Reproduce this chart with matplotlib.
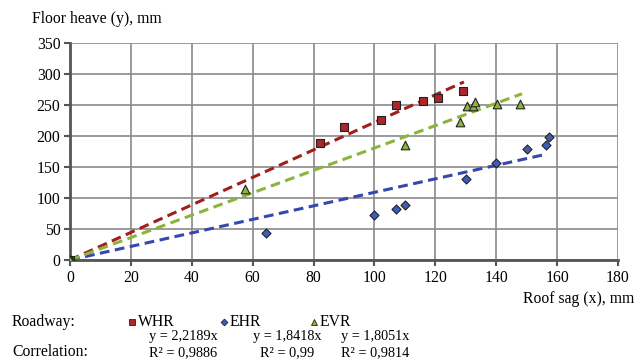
import matplotlib.pyplot as plt
import numpy as np

plt.rcParams['font.family'] = ['Liberation Serif', 'DejaVu Serif']

# --- data ---
whr_x = [0, 82, 90, 102, 107, 116, 121, 129]
whr_y = [0, 188, 215, 226, 250, 257, 262, 273]

ehr_x = [0, 64.5, 100, 107, 110, 130, 140, 150, 156.4, 157.4]
ehr_y = [0, 43, 72, 82, 88, 130, 156, 179, 185, 198]

evr_x = [0, 57.4, 110, 128, 130.4, 132.4, 133, 140.3, 148]
evr_y = [0, 115, 185, 222, 249, 249, 255, 251, 252]

# trend lines as drawn (slope, end x)
trend_slope = [2.2189, 1.09, 1.8051]
trend_end = [129.4, 156, 148.5]

series_names = ['WHR', 'EHR', 'EVR']
eq_text = ['y = 2,2189x', 'y = 1,8418x', 'y = 1,8051x']
r2_text = ['R² = 0,9886', 'R² = 0,99', 'R² = 0,9814']

x_ticks = list(range(0, 181, 20))
y_ticks = list(range(0, 351, 50))

# colours
fill_c = ['#A8272A', '#3F5DB5', '#8DB43C']
line_c = ['#A01E1E', '#3448AE', '#8CB33A']
markers = ['s', 'D', '^']
msize = [6.2, 4.6, 6.2]

fig = plt.figure(figsize=(6.37, 3.61), dpi=100)
ax = fig.add_axes([0.110, 0.280, 0.860, 0.601])

xs = [whr_x, ehr_x, evr_x]
ys = [whr_y, ehr_y, evr_y]

for i in range(3):
    xx = np.array([0, trend_end[i]])
    ax.plot(xx, trend_slope[i] * xx, linestyle=(0, (3.2, 1.8)), color=line_c[i],
            linewidth=2.2, zorder=2)
for i in range(3):
    ax.scatter(xs[i], ys[i], marker=markers[i], s=msize[i] ** 2, color=fill_c[i],
               edgecolor='#222222', linewidth=0.8, zorder=3)

ax.set_xlim(0, 180)
ax.set_ylim(0, 350)
ax.set_xticks(x_ticks)
ax.set_yticks(y_ticks)
ax.grid(True, color='#8a8a8a', linewidth=1.2)
ax.set_axisbelow(True)
for s in ['top', 'right']:
    ax.spines[s].set_visible(False)
for s in ['left', 'bottom']:
    ax.spines[s].set_color('#555555')
    ax.spines[s].set_linewidth(2)
ax.tick_params(axis='both', labelsize=11.3, length=4, width=1.5, color='#555555', pad=3)

fs = 11.3
fs2 = 10.3
# axis titles
fig.text(32 / 637, 1 - 23 / 361, 'Floor heave (y), mm', fontsize=fs, va='baseline', ha='left')
fig.text(634 / 637, 1 - 303 / 361, 'Roof sag (x), mm', fontsize=fs, va='baseline', ha='right')

# legend row
fig.text(12 / 637, 1 - 326 / 361, 'Roadway:', fontsize=fs, va='baseline')
leg_x = [128, 220, 310]
for i in range(3):
    fig.lines.append(plt.Line2D([(leg_x[i] + 4) / 637], [1 - 322 / 361], marker=markers[i],
                                markersize=msize[i] * 0.75, color=fill_c[i],
                                markeredgecolor='#222222', markeredgewidth=0.6,
                                transform=fig.transFigure))
    fig.text((leg_x[i] + 10) / 637, 1 - 326 / 361, series_names[i], fontsize=fs, va='baseline')

# correlation rows
fig.text(12 / 637, 1 - 356 / 361, 'Correlation:', fontsize=fs, va='baseline')
eq_x = [183, 287, 375]
for i in range(3):
    fig.text(eq_x[i] / 637, 1 - 340 / 361, eq_text[i], fontsize=fs2, va='baseline', ha='center')
    fig.text(eq_x[i] / 637, 1 - 356 / 361, r2_text[i], fontsize=fs2, va='baseline', ha='center')

fig.savefig('out.png', dpi=100)
